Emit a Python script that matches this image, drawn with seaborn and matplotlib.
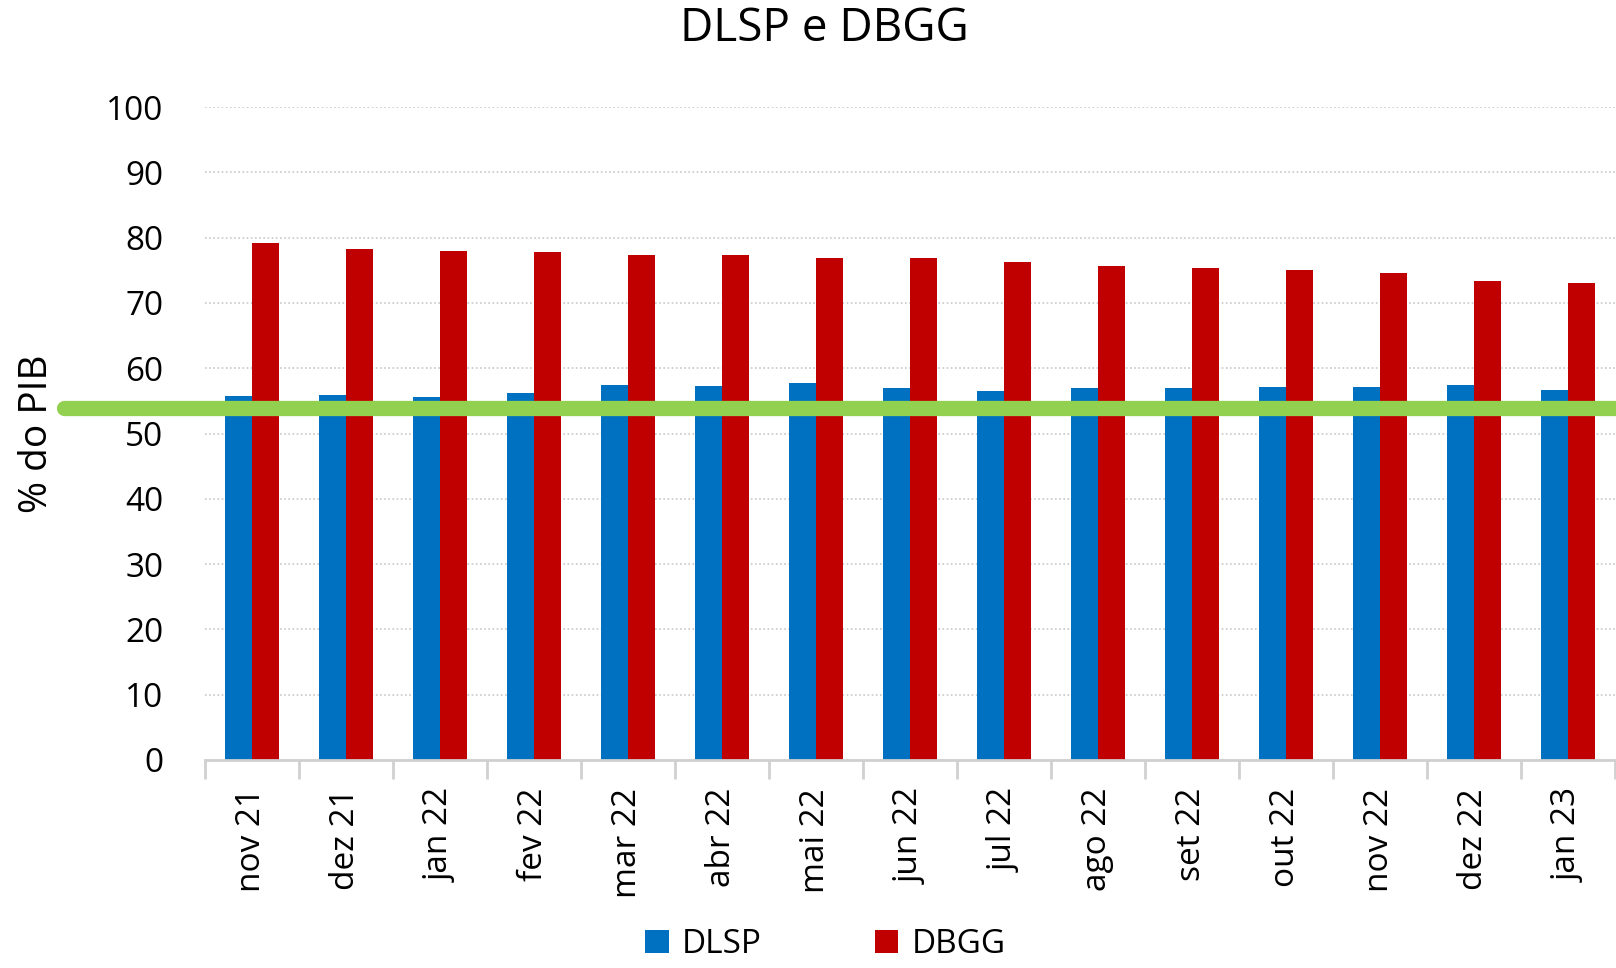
import matplotlib
matplotlib.use("Agg")
import matplotlib.pyplot as plt
import seaborn as sns
import pandas as pd
import numpy as np

# data (% do PIB)
meses = ["nov 21", "dez 21", "jan 22", "fev 22", "mar 22", "abr 22", "mai 22", "jun 22",
         "jul 22", "ago 22", "set 22", "out 22", "nov 22", "dez 22", "jan 23"]
dlsp = [55.7, 55.85, 55.55, 56.15, 57.4, 57.2, 57.7, 56.9, 56.45, 56.9, 56.9, 57.05, 57.05, 57.5, 56.6]
dbgg = [79.1, 78.3, 78.0, 77.85, 77.4, 77.4, 76.8, 76.8, 76.3, 75.65, 75.35, 75.05, 74.6, 73.35, 73.05]
linha_ref = 53.9

df = pd.DataFrame({
    "mes": meses * 2,
    "serie": ["DLSP"] * len(meses) + ["DBGG"] * len(meses),
    "valor": dlsp + dbgg,
})

sns.set_theme(style="white")
plt.rcParams["font.family"] = ["Open Sans", "DejaVu Sans"]
plt.rcParams["text.color"] = "black"
plt.rcParams["axes.labelcolor"] = "black"

fig = plt.figure(figsize=(16.16, 9.68), dpi=100)
ax = fig.add_axes([205 / 1616, 1 - 760 / 968, 1410 / 1616, (760 - 107) / 968])

sns.barplot(data=df, x="mes", y="valor", hue="serie", order=meses,
            palette={"DLSP": "#0070C0", "DBGG": "#C00000"},
            width=0.57, saturation=1, linewidth=0, ax=ax, legend=True)

ax.set_ylim(0, 100)
ax.set_xlim(-0.5, len(meses) - 0.5)
ax.set_yticks(np.arange(0, 101, 10))
ax.yaxis.grid(True, linestyle=(0, (1, 1.5)), color="#c8c8c8", linewidth=1.2)
ax.set_axisbelow(True)

for s in ["top", "right", "left"]:
    ax.spines[s].set_visible(False)
ax.spines["bottom"].set_color("#d0d0d0")
ax.spines["bottom"].set_linewidth(2)

# ticks at the category boundaries
ax.set_xticks(np.arange(-0.5, len(meses), 1), minor=True)
ax.tick_params(axis="x", which="minor", bottom=True, length=14, width=2,
               color="#d0d0d0", direction="out")
ax.tick_params(axis="x", which="major", length=0, pad=20, labelsize=24, rotation=90,
               labelcolor="black")
ax.tick_params(axis="y", length=0, pad=30, labelsize=24, labelcolor="black")

ax.axhline(linha_ref, xmin=-0.1, xmax=1.0, color="#92D050", linewidth=11, clip_on=False, zorder=5)

ax.set_xlabel("")
ax.set_ylabel("% do PIB", fontsize=28, labelpad=36)
fig.text(800 / 1568, 1 - 28 / 939, "DLSP e DBGG", fontsize=33, ha="center", va="center")

handles, labels = ax.get_legend_handles_labels()
ax.get_legend().remove()
fig.legend(handles, labels, loc="lower center", bbox_to_anchor=(801 / 1568, 0.0), ncol=2,
           frameon=False, fontsize=24, handlelength=0.7, handleheight=0.7, handletextpad=0.4,
           columnspacing=3.4, borderaxespad=0.1, borderpad=0.1)

fig.savefig("out.png", dpi=100)
